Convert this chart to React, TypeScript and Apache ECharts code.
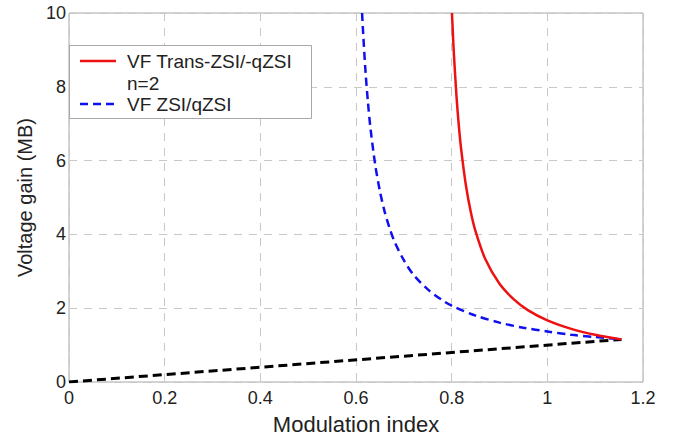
import React, { useEffect, useRef } from "react";
import * as echarts from "echarts";

const xTicks = [0, 0.2, 0.4, 0.6, 0.8, 1, 1.2];
const yTicks = [0, 2, 4, 6, 8, 10];

const transZsiM = [0.8006, 0.803, 0.805, 0.81, 0.815, 0.82, 0.83, 0.84, 0.85, 0.87, 0.9, 0.93, 0.96, 1.0, 1.05, 1.1, 1.155];
const transZsiG = [10, 9.32, 8.81, 7.76, 6.94, 6.29, 5.31, 4.61, 4.08, 3.34, 2.66, 2.24, 1.94, 1.67, 1.44, 1.28, 1.155];

const zsiM = [0.6127, 0.615, 0.62, 0.625, 0.63, 0.64, 0.65, 0.66, 0.67, 0.68, 0.7, 0.72, 0.75, 0.78, 0.8, 0.85, 0.9, 0.95, 1.0, 1.05, 1.1, 1.155];
const zsiG = [10, 9.44, 8.39, 7.58, 6.91, 5.9, 5.17, 4.61, 4.18, 3.82, 3.3, 2.91, 2.51, 2.22, 2.07, 1.8, 1.61, 1.47, 1.37, 1.28, 1.22, 1.155];

const refM = [0, 1.155];
const refG = [0, 1.155];

const legendLabels = ["VF Trans-ZSI/-qZSI", "n=2", "VF ZSI/qZSI"];

const zip = (a: number[], b: number[]) => a.map((v, i) => [v, b[i]]);

export default function App() {
  const ref = useRef<HTMLDivElement>(null);
  useEffect(() => {
    if (!ref.current) return;
    const chart = echarts.init(ref.current, null, { renderer: "svg" });
    const font = "Liberation Sans, Arial, sans-serif";
    const gridLine = { show: true, lineStyle: { color: "#c8c8c8", type: [8, 7] as any, width: 1 } };
    chart.setOption({
      animation: false,
      backgroundColor: "#ffffff",
      grid: {
        left: 69,
        right: 31,
        top: 13,
        bottom: 56,
        show: true,
        borderColor: "#a8a8a8",
        borderWidth: 1,
        outerBoundsMode: "none",
        containLabel: false,
      },
      xAxis: {
        type: "value",
        min: 0,
        max: 1.2,
        interval: 0.2,
        name: "Modulation index",
        nameLocation: "middle",
        nameGap: 31,
        nameTextStyle: { fontFamily: font, fontSize: 22, color: "#222" },
        axisLine: { show: false },
        axisTick: { show: false },
        axisLabel: {
          fontFamily: font,
          fontSize: 18,
          color: "#222",
          margin: 7,
          formatter: (v: number) => {
            const t = xTicks.find((x) => Math.abs(x - v) < 1e-6);
            return t === undefined ? "" : String(t);
          },
        },
        splitLine: gridLine,
      },
      yAxis: {
        type: "value",
        min: 0,
        max: 10,
        interval: 2,
        name: "Voltage gain (MB)",
        nameLocation: "middle",
        nameGap: 33,
        nameTextStyle: { fontFamily: font, fontSize: 20, color: "#222" },
        axisLine: { show: false },
        axisTick: { show: false },
        axisLabel: {
          fontFamily: font,
          fontSize: 18,
          color: "#222",
          margin: 3,
          formatter: (v: number) => {
            const t = yTicks.find((x) => Math.abs(x - v) < 1e-6);
            return t === undefined ? "" : String(t);
          },
        },
        splitLine: gridLine,
      },
      series: [
        {
          type: "line",
          data: zip(refM, refG),
          showSymbol: false,
          lineStyle: { color: "#000000", width: 3, type: [9, 5] as any },
          z: 3,
        },
        {
          type: "line",
          data: zip(zsiM, zsiG),
          showSymbol: false,
          smooth: 0.3,
          lineStyle: { color: "#1010ee", width: 2.5, type: [8, 5] as any },
          z: 4,
        },
        {
          type: "line",
          data: zip(transZsiM, transZsiG),
          showSymbol: false,
          smooth: 0.3,
          lineStyle: { color: "#ee1111", width: 2.5 },
          z: 5,
        },
      ],
      graphic: [
        {
          type: "rect",
          left: 69,
          top: 45,
          shape: { width: 242, height: 73 },
          style: { fill: "#ffffff", stroke: "#a8a8a8", lineWidth: 1 },
          z: 10,
        },
        {
          type: "line",
          shape: { x1: 80, y1: 61, x2: 116, y2: 61 },
          style: { stroke: "#ee1111", lineWidth: 2.5 },
          z: 11,
        },
        {
          type: "line",
          shape: { x1: 80, y1: 104, x2: 116, y2: 104 },
          style: { stroke: "#1010ee", lineWidth: 2.5, lineDash: [8, 5] },
          z: 11,
        },
        {
          type: "text",
          x: 127,
          y: 61,
          style: { text: legendLabels[0], fontFamily: font, fontSize: 19, fill: "#222", verticalAlign: "middle" },
          z: 11,
        },
        {
          type: "text",
          x: 127,
          y: 83,
          style: { text: legendLabels[1], fontFamily: font, fontSize: 19, fill: "#222", verticalAlign: "middle" },
          z: 11,
        },
        {
          type: "text",
          x: 127,
          y: 104,
          style: { text: legendLabels[2], fontFamily: font, fontSize: 19, fill: "#222", verticalAlign: "middle" },
          z: 11,
        },
      ],
    });
    return () => chart.dispose();
  }, []);
  return <div ref={ref} style={{ width: 674, height: 438, position: "absolute", left: 0, top: 0 }} />;
}
